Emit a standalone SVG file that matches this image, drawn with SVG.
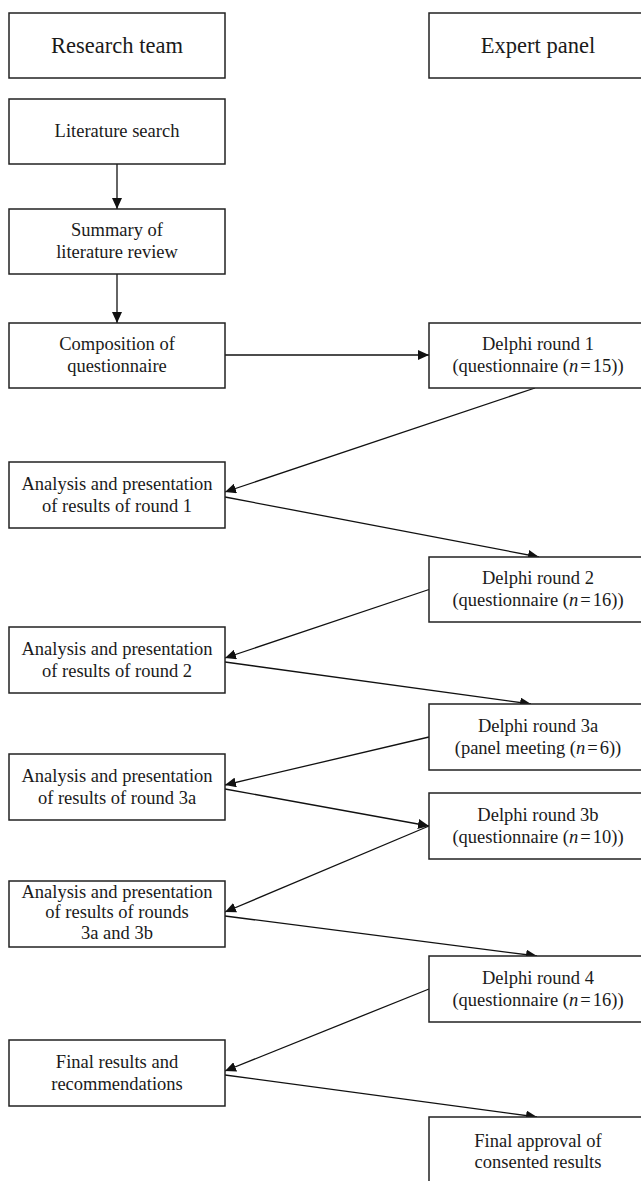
<svg xmlns="http://www.w3.org/2000/svg" width="641" height="1181" viewBox="0 0 641 1181">
<style>
.box{fill:#fff;stroke:#222;stroke-width:1.5}
.t{font-family:"Liberation Serif","Times New Roman",serif;font-size:18.5px;fill:#1a1a1a;text-anchor:middle}
.h{font-size:22.5px}
.c{fill:none;stroke:#111;stroke-width:1.3}
.i{font-style:italic}
</style>
<defs>
<marker id="ah" markerUnits="userSpaceOnUse" markerWidth="11" markerHeight="10" refX="11" refY="5" orient="auto">
<path d="M0,0 L11,5 L0,10 Z" fill="#111"/>
</marker>
</defs>
<rect width="641" height="1181" fill="#fff"/>
<g id="connectors">
<line class="c" x1="117" y1="164" x2="117" y2="209" marker-end="url(#ah)"/>
<line class="c" x1="117" y1="274" x2="117" y2="323" marker-end="url(#ah)"/>
<line class="c" x1="225" y1="355" x2="429" y2="355" marker-end="url(#ah)"/>
<line class="c" x1="535" y1="388" x2="225" y2="492" marker-end="url(#ah)"/>
<line class="c" x1="225" y1="497" x2="539" y2="557" marker-end="url(#ah)"/>
<line class="c" x1="429" y1="589.5" x2="225" y2="658" marker-end="url(#ah)"/>
<line class="c" x1="225" y1="662" x2="531" y2="704" marker-end="url(#ah)"/>
<line class="c" x1="429" y1="737" x2="225" y2="785" marker-end="url(#ah)"/>
<line class="c" x1="225" y1="789" x2="429" y2="826" marker-end="url(#ah)"/>
<line class="c" x1="429" y1="826" x2="225" y2="912" marker-end="url(#ah)"/>
<line class="c" x1="225" y1="916" x2="537" y2="956" marker-end="url(#ah)"/>
<line class="c" x1="429" y1="989" x2="225" y2="1071" marker-end="url(#ah)"/>
<line class="c" x1="225" y1="1075" x2="537" y2="1117" marker-end="url(#ah)"/>
</g>
<g id="research-team"><rect class="box" x="9" y="13" width="216" height="65"/><text class="t h" x="117" y="53">Research team</text></g>
<g id="expert-panel"><rect class="box" x="429" y="13" width="216" height="65"/><text class="t h" x="538" y="53">Expert panel</text></g>
<g id="literature-search"><rect class="box" x="9" y="99" width="216" height="65"/><text class="t" x="117" y="137">Literature search</text></g>
<g id="summary"><rect class="box" x="9" y="209" width="216" height="65"/><text class="t" x="117" y="236">Summary of</text><text class="t" x="117" y="258">literature review</text></g>
<g id="composition"><rect class="box" x="9" y="323" width="216" height="65"/><text class="t" x="117" y="350">Composition of</text><text class="t" x="117" y="372">questionnaire</text></g>
<g id="delphi-1"><rect class="box" x="429" y="323" width="216" height="65"/><text class="t" x="538" y="350">Delphi round 1</text><text class="t" x="538" y="372">(questionnaire (<tspan class="i">n</tspan><tspan dx="2">=</tspan><tspan dx="2">15))</tspan></text></g>
<g id="analysis-1"><rect class="box" x="9" y="462" width="216" height="66"/><text class="t" x="117" y="489.5">Analysis and presentation</text><text class="t" x="117" y="511.5">of results of round 1</text></g>
<g id="delphi-2"><rect class="box" x="429" y="557" width="216" height="65"/><text class="t" x="538" y="584">Delphi round 2</text><text class="t" x="538" y="606">(questionnaire (<tspan class="i">n</tspan><tspan dx="2">=</tspan><tspan dx="2">16))</tspan></text></g>
<g id="analysis-2"><rect class="box" x="9" y="627" width="216" height="66"/><text class="t" x="117" y="654.5">Analysis and presentation</text><text class="t" x="117" y="676.5">of results of round 2</text></g>
<g id="delphi-3a"><rect class="box" x="429" y="704" width="216" height="66"/><text class="t" x="538" y="731.5">Delphi round 3a</text><text class="t" x="538" y="753.5">(panel meeting (<tspan class="i">n</tspan><tspan dx="2">=</tspan><tspan dx="2">6))</tspan></text></g>
<g id="analysis-3a"><rect class="box" x="9" y="754" width="216" height="66"/><text class="t" x="117" y="781.5">Analysis and presentation</text><text class="t" x="117" y="803.5">of results of round 3a</text></g>
<g id="delphi-3b"><rect class="box" x="429" y="793" width="216" height="66"/><text class="t" x="538" y="820.5">Delphi round 3b</text><text class="t" x="538" y="842.5">(questionnaire (<tspan class="i">n</tspan><tspan dx="2">=</tspan><tspan dx="2">10))</tspan></text></g>
<g id="analysis-3a-3b"><rect class="box" x="9" y="881" width="216" height="66"/><text class="t" x="117" y="897.5">Analysis and presentation</text><text class="t" x="117" y="918">of results of rounds</text><text class="t" x="117" y="938.5">3a and 3b</text></g>
<g id="delphi-4"><rect class="box" x="429" y="956" width="216" height="66"/><text class="t" x="538" y="983.5">Delphi round 4</text><text class="t" x="538" y="1005.5">(questionnaire (<tspan class="i">n</tspan><tspan dx="2">=</tspan><tspan dx="2">16))</tspan></text></g>
<g id="final-results"><rect class="box" x="9" y="1040" width="216" height="66"/><text class="t" x="117" y="1067.5">Final results and</text><text class="t" x="117" y="1089.5">recommendations</text></g>
<g id="final-approval"><rect class="box" x="429" y="1117" width="216" height="70"/><text class="t" x="538" y="1146.5">Final approval of</text><text class="t" x="538" y="1168">consented results</text></g>
</svg>
